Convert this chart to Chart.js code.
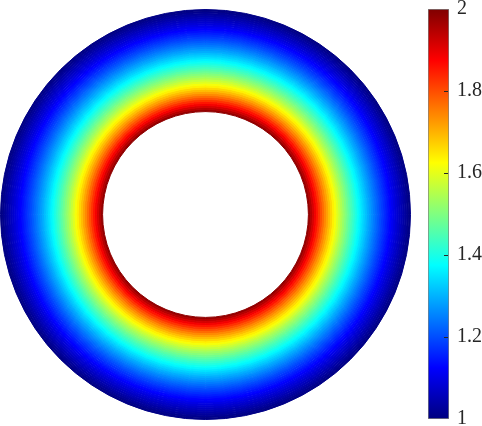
<!DOCTYPE html>
<html>
<head>
<meta charset="utf-8">
<script src="https://cdn.jsdelivr.net/npm/chart.js@4/dist/chart.umd.min.js"></script>
<style>
    html, body { margin: 0; padding: 0; background: #fff; overflow: hidden; }
    #wrap { position: relative; width: 482px; height: 426px; overflow: hidden; }
    #ringChart { position: absolute; left: 0; top: 9px; }
    #barChart { position: absolute; left: 428px; top: -20px; }
</style>
</head>
<body>
<div id="wrap">
    <canvas id="ringChart" width="411" height="411"></canvas>
    <canvas id="barChart" width="54" height="466"></canvas>
</div>
<script>
// field value in each ring, from the outer edge (1) to the inner hole (2)
var ringValues = [
    1.006, 1.019, 1.031, 1.044, 1.057, 1.070, 1.083, 1.097, 1.111, 1.125,
    1.139, 1.153, 1.168, 1.183, 1.198, 1.213, 1.229, 1.245, 1.261, 1.278,
    1.294, 1.312, 1.329, 1.347, 1.365, 1.384, 1.402, 1.422, 1.441, 1.461,
    1.482, 1.503, 1.524, 1.546, 1.569, 1.592, 1.615, 1.639, 1.664, 1.689,
    1.715, 1.741, 1.769, 1.797, 1.826, 1.855, 1.886, 1.917, 1.950, 1.983
];
var colorRange = [1, 2];
var barTicks = [1, 1.2, 1.4, 1.6, 1.8, 2];

function clamp01(v) {
    return Math.max(0, Math.min(1, v));
}

// matlab-like jet colormap
function jet(value) {
    var t = clamp01((value - colorRange[0]) / (colorRange[1] - colorRange[0]));
    var r = clamp01(1.5 - Math.abs(4 * t - 3));
    var g = clamp01(1.5 - Math.abs(4 * t - 2));
    var b = clamp01(1.5 - Math.abs(4 * t - 1));
    return 'rgb(' + Math.round(r * 255) + ',' + Math.round(g * 255) + ',' + Math.round(b * 255) + ')';
}

var tickFont = { family: 'Liberation Serif', size: 20 };

new Chart(document.getElementById('ringChart'), {
    type: 'doughnut',
    data: {
        labels: ['u'],
        datasets: ringValues.map(function (value) {
            var color = jet(value);
            return {
                data: [1],
                backgroundColor: color,
                borderColor: color,
                borderWidth: 1,
                hoverOffset: 0,
                hoverBorderWidth: 1
            };
        })
    },
    options: {
        responsive: false,
        animation: false,
        events: [],
        radius: 205,
        cutout: '50.2%',
        layout: { padding: 0 },
        plugins: {
            legend: { display: false },
            tooltip: { enabled: false }
        }
    }
});

// small inward ticks on the right edge of the colour bar
var innerTicks = {
    id: 'innerTicks',
    afterDatasetsDraw: function (chart) {
        var ctx = chart.ctx;
        var area = chart.chartArea;
        var scale = chart.scales.y;
        ctx.save();
        ctx.strokeStyle = '#262626';
        ctx.lineWidth = 1;
        barTicks.forEach(function (v) {
            if (v === colorRange[0] || v === colorRange[1]) {
                return;
            }
            var y = Math.round(scale.getPixelForValue(v)) + 0.5;
            ctx.beginPath();
            ctx.moveTo(area.right - 5, y);
            ctx.lineTo(area.right - 1, y);
            ctx.stroke();
        });
        ctx.restore();
    }
};

new Chart(document.getElementById('barChart'), {
    type: 'bar',
    data: {
        labels: [''],
        datasets: [{
            data: [colorRange],
            backgroundColor: function (c) {
                var area = c.chart.chartArea;
                if (!area) {
                    return jet(1.5);
                }
                var grad = c.chart.ctx.createLinearGradient(0, area.bottom, 0, area.top);
                for (var i = 0; i <= 64; i++) {
                    var v = colorRange[0] + (colorRange[1] - colorRange[0]) * i / 64;
                    grad.addColorStop(i / 64, jet(v));
                }
                return grad;
            },
            borderColor: '#7f7f7f',
            borderWidth: 1,
            borderSkipped: false,
            barPercentage: 1,
            categoryPercentage: 1
        }]
    },
    options: {
        responsive: false,
        animation: false,
        events: [],
        layout: { padding: { top: 29, bottom: 27, left: 0, right: 0 } },
        plugins: {
            legend: { display: false },
            tooltip: { enabled: false }
        },
        scales: {
            x: { display: false },
            y: {
                position: 'right',
                min: colorRange[0],
                max: colorRange[1],
                afterBuildTicks: function (scale) {
                    scale.ticks = barTicks.map(function (v) { return { value: v }; });
                },
                afterFit: function (scale) {
                    scale.width = 33;
                },
                border: { display: false },
                grid: { display: false, drawTicks: false },
                ticks: {
                    padding: 8,
                    color: '#262626',
                    font: tickFont,
                    callback: function (v) { return String(v); }
                }
            }
        }
    },
    plugins: [innerTicks]
});
</script>
</body>
</html>
